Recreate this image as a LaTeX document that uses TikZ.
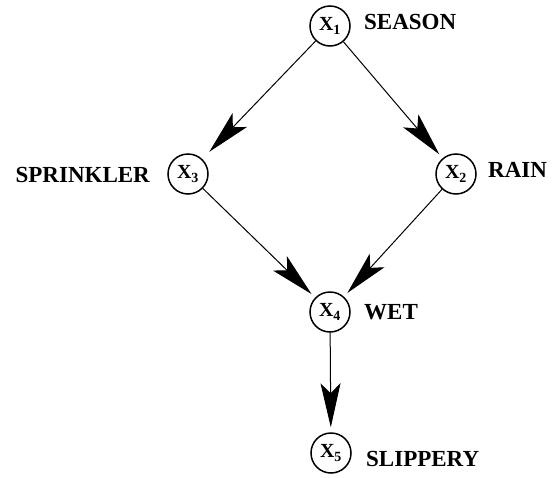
\documentclass[tikz,border=0pt]{standalone}
\usepackage{fontspec}
\setmainfont{Liberation Serif}
\usetikzlibrary{arrows.meta}
\begin{document}
\begin{tikzpicture}[x=1pt,y=-1pt,
  var/.style={circle,draw,line width=1.5pt,minimum size=40pt,inner sep=0pt,font=\fontsize{20}{20}\selectfont\bfseries},
  lab/.style={anchor=west,inner sep=0pt,font=\fontsize{23}{23}\selectfont\bfseries},
  arr/.style={line width=1pt,-{Stealth[length=44pt,width=20pt,inset=10pt]},shorten >=5pt}]
\useasboundingbox (0,0) rectangle (552,477);
\node[var] (x1) at (330,26) {X$_{\mathbf 1}$};
\node[var] (x3) at (188,174) {X$_{\mathbf 3}$};
\node[var] (x2) at (456,174) {X$_{\mathbf 2}$};
\node[var] (x4) at (330,312) {X$_{\mathbf 4}$};
\node[var] (x5) at (331,453) {X$_{\mathbf 5}$};
\node[lab] (l1) at (364,22) {SEASON};
\node[lab,anchor=east] (l3) at (150,175) {SPRINKLER};
\node[lab] (l2) at (488,170) {RAIN};
\node[lab] (l4) at (364,312) {WET};
\node[lab] (l5) at (366,459) {SLIPPERY};
\draw[arr,shorten >=10pt] (x1) -- (x3);
\draw[arr] (x1) -- (x2);
\draw[arr] (x3) -- (x4);
\draw[arr] (x2) -- (x4);
\draw[arr] (x4) -- (x5);
\end{tikzpicture}
\end{document}
